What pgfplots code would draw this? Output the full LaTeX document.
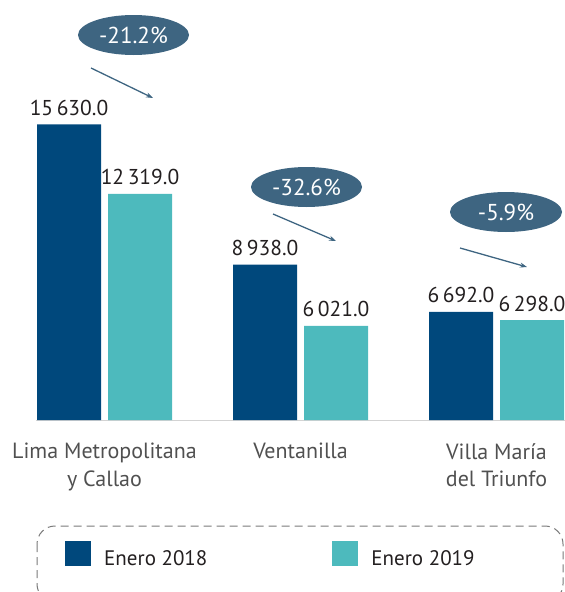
\documentclass[border=0pt]{standalone}
\usepackage{pgfplots}
\pgfplotsset{compat=1.18}
\usepackage{fontspec}
\setmainfont{PT Sans}
\usetikzlibrary{arrows.meta}
\definecolor{darkblue}{HTML}{00487C}
\definecolor{teal2}{HTML}{4DBABD}
\definecolor{ellip}{HTML}{3E6581}
\definecolor{cattxt}{HTML}{505050}
\definecolor{valtxt}{HTML}{231F20}
\definecolor{basegray}{HTML}{D3D3D3}
\definecolor{dashgray}{HTML}{7A7A7A}
\begin{document}
\begin{tikzpicture}
\useasboundingbox (0,0) rectangle (565pt,-592pt);
\begin{axis}[
  at={(36pt,-420pt)}, anchor=south west,
  scale only axis, width=529pt, height=420pt,
  xmin=-0.3495, xmax=2.3495, ymin=1529, ymax=21567,
  ybar=7pt, bar width=64pt,
  axis y line=none,
  axis x line*=bottom,
  x axis line style={draw=basegray, line width=1pt, -},
  xtick={0,1,2},
  xticklabels={Lima Metropolitana\\y Callao, Ventanilla, Villa María\\del Triunfo},
  major tick length=0pt,
  xticklabel style={align=center, inner sep=0pt, font=\fontsize{22}{27.4}\selectfont, text=cattxt, anchor=north},
  xticklabel shift=23pt,
  nodes near coords={\pgfmathprintnumber[fixed,fixed zerofill,precision=1,1000 sep={\,},assume math mode=true]{\pgfplotspointmeta}},
  every node near coord/.append style={font=\fontsize{21.5}{25}\selectfont, text=valtxt, anchor=base, inner sep=0pt, yshift=9pt},
  legend style={draw=none, fill=none, at={(axis description cs:0,0)}, anchor=north west,
    xshift=29pt, yshift=-121pt, legend columns=2,
    font=\fontsize{21}{25}\selectfont, text=valtxt, inner sep=0pt,
    /tikz/every even column/.append style={column sep=125pt},
    /tikz/every odd column/.append style={column sep=13pt},
    nodes={inner sep=0pt}},
  legend image code/.code={\fill[#1, sharp corners] (0pt,-7pt) rectangle (26pt,18pt);},
]
\addplot[fill=darkblue, draw=none] coordinates {(0,15630) (1,8938) (2,6692)};
\addplot[fill=teal2, draw=none] coordinates {(0,12319) (1,6021) (2,6298)};
\legend{Enero 2018, Enero 2019}
\end{axis}
\draw[dashgray, line width=1pt, dash pattern=on 8pt off 5pt, rounded corners=18pt] (37pt,-526pt) rectangle (563pt,-602pt);
\fill[ellip] (133.5pt,-35pt) ellipse [x radius=55.5pt, y radius=20pt];
\node[text=white, font=\fontsize{23}{27}\selectfont] at (133.5pt,-35pt) {-21.2\%};
\fill[ellip] (306.5pt,-187pt) ellipse [x radius=55.5pt, y radius=20pt];
\node[text=white, font=\fontsize{23}{27}\selectfont] at (306.5pt,-187pt) {-32.6\%};
\fill[ellip] (506pt,-212pt) ellipse [x radius=56pt, y radius=20pt];
\node[text=white, font=\fontsize{23}{27}\selectfont] at (506pt,-212pt) {-5.9\%};
\draw[ellip, line width=1.3pt, -{Stealth[length=7pt,width=5pt]}] (91pt,-68pt) -- (153pt,-98pt);
\draw[ellip, line width=1.3pt, -{Stealth[length=7pt,width=5pt]}] (273pt,-214pt) -- (336pt,-241pt);
\draw[ellip, line width=1.3pt, -{Stealth[length=7pt,width=5pt]}] (460pt,-248pt) -- (527pt,-267pt);
\end{tikzpicture}
\end{document}
